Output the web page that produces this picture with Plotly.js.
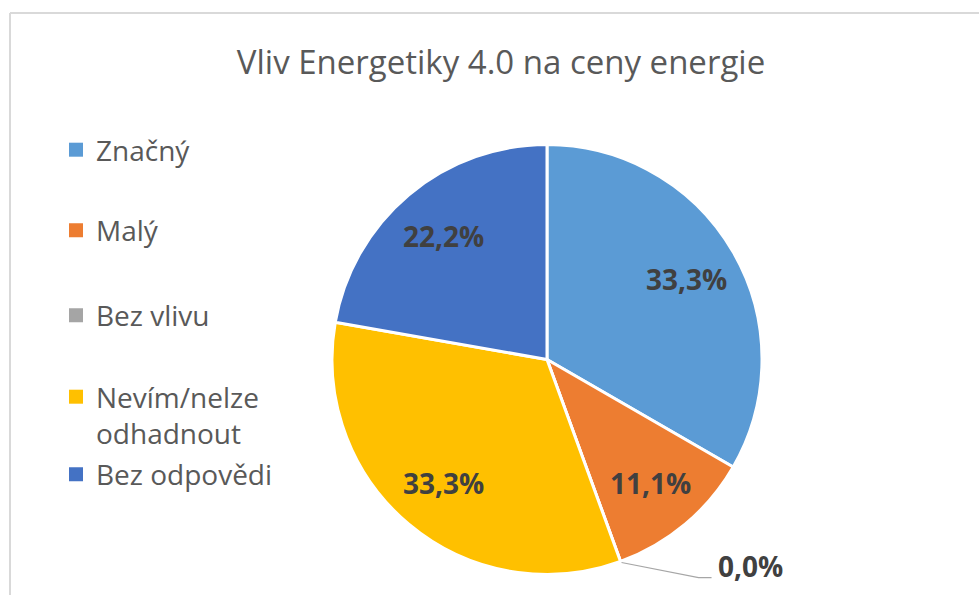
<!DOCTYPE html>
<html>
<head>
<meta charset="utf-8">
<script src="https://cdn.plot.ly/plotly-3.0.1.min.js"></script>
<style>
  html, body { margin: 0; padding: 0; background: #ffffff; }
  #chart { width: 979px; height: 595px; }
</style>
</head>
<body>
<div id="chart"></div>
<script>
// ---- data ----
const categories = ["Značný", "Malý", "Bez vlivu", "Nevím/nelze odhadnout", "Bez odpovědi"];
const legendLabels = ["Značný", "Malý", "Bez vlivu", "Nevím/nelze<br>odhadnout", "Bez odpovědi"];
const shares = [33.3, 11.1, 0.0, 33.3, 22.2];
const colors = ["#5B9BD5", "#ED7D31", "#A5A5A5", "#FFC000", "#4472C4"];
const chartTitle = "Vliv Energetiky 4.0 na ceny energie";

// ---- layout constants ----
const W = 979, H = 595;
const FONT = "Open Sans, Noto Sans, sans-serif";
const pieCx = 547, pieCy = 359.5, pieR = 215;   // px
const labelRadius = 0.75;
const px2x = p => p / W;
const px2y = p => 1 - p / H;

const pie = {
  type: "pie",
  labels: categories,
  values: shares,
  sort: false,
  direction: "clockwise",
  rotation: 0,
  marker: { colors: colors, line: { color: "#ffffff", width: 3 } },
  textinfo: "none",
  showlegend: false,
  hoverinfo: "label+percent",
  domain: { x: [px2x(pieCx - pieR), px2x(pieCx + pieR)], y: [px2y(pieCy + pieR), px2y(pieCy - pieR)] }
};

// legend entries (one legend per entry to reproduce the spacing)
const legendY = [150, 230.5, 315.5, 415, 474.5];
const traces = [pie];
const layoutLegends = {};
categories.forEach((c, i) => {
  const key = i === 0 ? "legend" : "legend" + (i + 1);
  traces.push({
    type: "scatter", mode: "markers", x: [null], y: [null],
    name: legendLabels[i], legend: key, showlegend: true,
    marker: { symbol: "square", size: 14, color: colors[i], line: { width: 0 } },
    hoverinfo: "skip"
  });
  layoutLegends[key] = {
    x: px2x(56), xanchor: "left", y: px2y(legendY[i]), yanchor: "middle",
    bgcolor: "rgba(0,0,0,0)", borderwidth: 0, valign: "top",
    font: { family: FONT, size: 28, color: "#595959" },
    itemclick: false, itemdoubleclick: false
  };
});

// percent labels, positioned from the data (mid-angle of each slice)
const total = shares.reduce((a, b) => a + b, 0);
const fmtPct = v => (Math.round(v / total * 1000) / 10).toFixed(1).replace(".", ",") + "%";
let cum = 0;
const anns = [];
const extraShapes = [];
const labelFont = { family: FONT, size: 28, color: "#404040", weight: "bold" };
shares.forEach((v, i) => {
  if (v === 0) {
    const ang = (cum / total) * 2 * Math.PI;
    const ex = pieCx + pieR * Math.sin(ang);
    const ey = pieCy - pieR * Math.cos(ang);
    extraShapes.push({
      type: "path", xref: "paper", yref: "paper",
      path: `M ${px2x(ex + 1)} ${px2y(ey + 1)} L ${px2x(ex + 78)} ${px2y(ey + 16)} L ${px2x(ex + 91)} ${px2y(ey + 16)}`,
      line: { color: "#A6A6A6", width: 1.2 }
    });
    anns.push({
      xref: "paper", yref: "paper", x: px2x(ex + 95), y: px2y(ey + 4),
      xanchor: "left", yanchor: "middle", showarrow: false, text: fmtPct(v),
      font: labelFont
    });
  } else {
    const mid = ((cum + v / 2) / total) * 2 * Math.PI;
    const lx = pieCx + labelRadius * pieR * Math.sin(mid);
    const ly = pieCy - labelRadius * pieR * Math.cos(mid);
    anns.push({
      xref: "paper", yref: "paper", x: px2x(lx), y: px2y(ly),
      xanchor: "center", yanchor: "middle", showarrow: false, text: fmtPct(v),
      font: labelFont
    });
  }
  cum += v;
});

const layout = Object.assign({
  width: W, height: H,
  margin: { l: 0, r: 0, t: 0, b: 0 },
  paper_bgcolor: "#ffffff", plot_bgcolor: "#ffffff",
  separators: ", ",
  title: {
    text: chartTitle, x: px2x(501), xanchor: "center", xref: "paper",
    y: px2y(62), yanchor: "middle", yref: "paper",
    font: { family: FONT, size: 33, color: "#595959" }
  },
  xaxis: { visible: false, fixedrange: true },
  yaxis: { visible: false, fixedrange: true },
  annotations: anns,
  shapes: [
    { type: "line", xref: "paper", yref: "paper", x0: px2x(10), x1: px2x(10), y0: 0, y1: px2y(13), line: { color: "#D9D9D9", width: 2 } },
    { type: "line", xref: "paper", yref: "paper", x0: px2x(10), x1: 1, y0: px2y(13), y1: px2y(13), line: { color: "#D9D9D9", width: 2 } }
  ].concat(extraShapes)
}, layoutLegends);

Plotly.newPlot("chart", traces, layout, { displayModeBar: false });
</script>
</body>
</html>
